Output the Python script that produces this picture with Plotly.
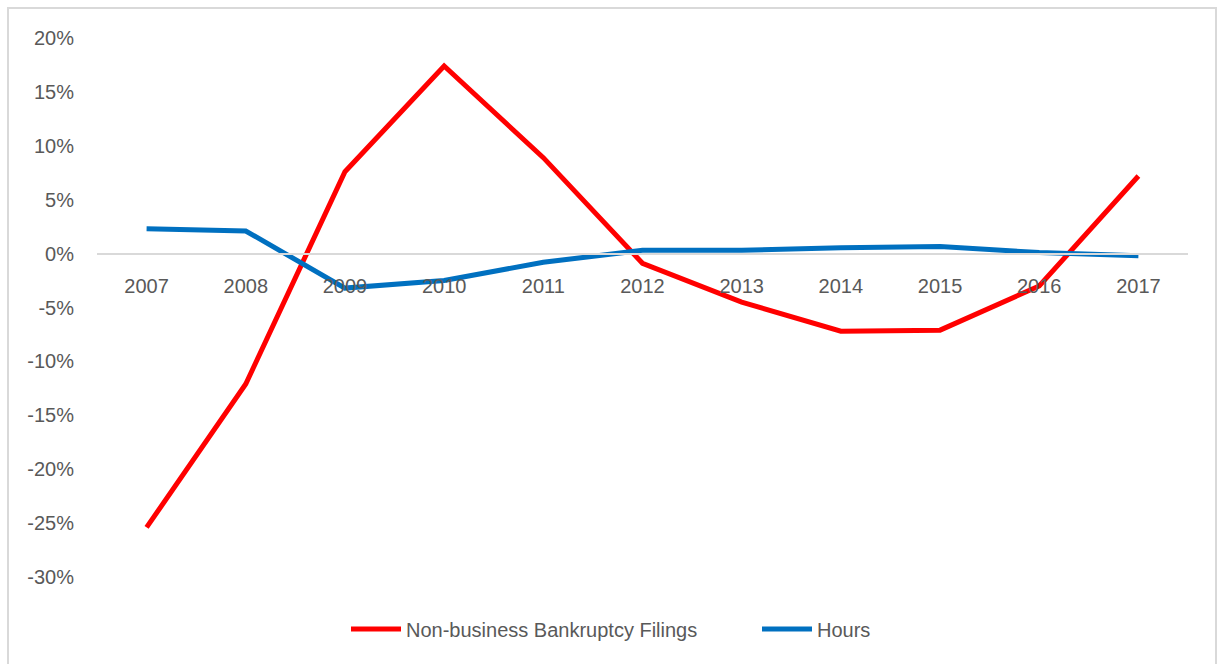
import plotly.graph_objects as go

years = ["2007", "2008", "2009", "2010", "2011", "2012", "2013", "2014", "2015", "2016", "2017"]
bankruptcy = [-25.4, -12.1, 7.6, 17.4, 8.9, -0.9, -4.5, -7.2, -7.1, -3.0, 7.2]
hours = [2.3, 2.1, -3.2, -2.5, -0.8, 0.3, 0.3, 0.55, 0.65, 0.1, -0.2]
y_ticks = [20, 15, 10, 5, 0, -5, -10, -15, -20, -25, -30]
y_tick_text = [f"{v}%" for v in y_ticks]

W, H = 1219, 664
ML, MR, MT, MB = 97, 31, 38, 87
pw, ph = W - ML - MR, H - MT - MB

font = "Liberation Sans"
grey = "#595959"

fig = go.Figure()
fig.add_trace(go.Scatter(x=years, y=bankruptcy, mode="lines", name="Non-business Bankruptcy Filings",
                         line=dict(color="#FF0000", width=5)))
fig.add_trace(go.Scatter(x=years, y=hours, mode="lines", name="Hours",
                         line=dict(color="#0070C0", width=5)))

ymin, ymax = -30, 20
fig.update_layout(
    width=W, height=H,
    margin=dict(l=ML, r=MR, t=MT, b=MB),
    paper_bgcolor="white", plot_bgcolor="white",
    font=dict(family=font, size=20, color=grey),
    xaxis=dict(type="category", range=[-0.5, 10.5], showgrid=False, zeroline=False,
               showline=True, linecolor="#d9d9d9", linewidth=2,
               anchor="free", position=(0 - ymin) / (ymax - ymin),
               ticks="", ticklabelstandoff=14, tickfont=dict(size=20, color=grey)),
    yaxis=dict(range=[ymin, ymax], tickvals=y_ticks, ticktext=y_tick_text,
               showgrid=False, zeroline=False, showline=False, ticks="",
               ticklabelstandoff=22, tickfont=dict(size=20, color=grey)),
    legend=dict(orientation="h", x=(346 - ML) / pw, xanchor="left", y=-(629 - (H - MB)) / ph, yanchor="middle",
                font=dict(size=20, color=grey), itemwidth=50, entrywidth=346, entrywidthmode="pixels"),
    showlegend=True,
)

# chart border
fig.add_shape(type="rect", xref="paper", yref="paper",
              x0=(8 - ML) / pw, x1=(1216 - ML) / pw,
              y0=-(H + 2 - (H - MB)) / ph, y1=1 + (MT - 8) / ph,
              line=dict(color="#d9d9d9", width=2), fillcolor="rgba(0,0,0,0)", layer="below")

fig.write_html("out.html")
